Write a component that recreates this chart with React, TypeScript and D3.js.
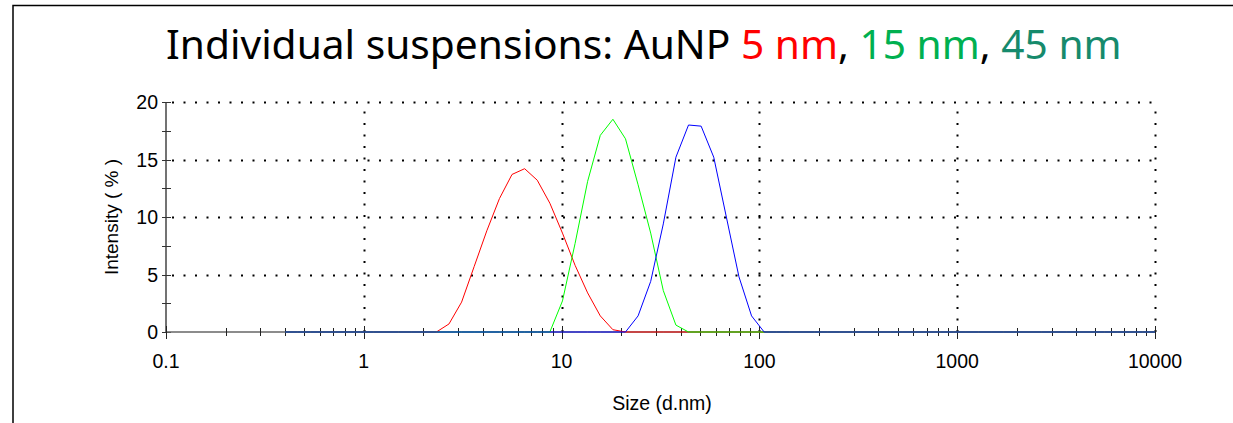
import React, { useEffect, useRef } from "react";
import * as d3 from "d3";

// size bins (d.nm) of the instrument
const sizes = [
  0.4, 0.4632, 0.5365, 0.6213, 0.7195, 0.8332, 0.9649, 1.117, 1.294, 1.499,
  1.736, 2.01, 2.328, 2.696, 3.122, 3.615, 4.187, 4.849, 5.615, 6.503,
  7.531, 8.721, 10.1, 11.7, 13.54, 15.69, 18.17, 21.04, 24.36, 28.21,
  32.67, 37.84, 43.82, 50.75, 58.77, 68.06, 78.82, 91.28, 105.7, 122.4,
  141.8, 164.2, 190.1, 220.2, 255.0, 295.3, 342.0, 396.1, 458.7, 531.2,
  615.1, 712.4, 825.0, 955.4, 1106, 1281, 1484, 1718, 1990, 2305,
  2669, 3091, 3580, 4145, 4801, 5560, 6439, 7456, 8635, 10000,
];

const au5nm = [
  0, 0, 0, 0, 0, 0, 0, 0, 0, 0,
  0, 0, 0, 0.7, 2.6, 5.7, 8.8, 11.6, 13.7, 14.2,
  13.2, 11.2, 8.6, 5.8, 3.4, 1.4, 0.2, 0, 0, 0,
  0, 0, 0, 0, 0, 0, 0, 0, 0, 0,
  0, 0, 0, 0, 0, 0, 0, 0, 0, 0,
  0, 0, 0, 0, 0, 0, 0, 0, 0, 0,
  0, 0, 0, 0, 0, 0, 0, 0, 0, 0,
];

const au15nm = [
  0, 0, 0, 0, 0, 0, 0, 0, 0, 0,
  0, 0, 0, 0, 0, 0, 0, 0, 0, 0,
  0, 0, 2.7, 7.7, 13.1, 17.1, 18.5, 16.8, 12.8, 8.6,
  3.6, 0.6, 0, 0, 0, 0, 0, 0, 0, 0,
  0, 0, 0, 0, 0, 0, 0, 0, 0, 0,
  0, 0, 0, 0, 0, 0, 0, 0, 0, 0,
  0, 0, 0, 0, 0, 0, 0, 0, 0, 0,
];

const au45nm = [
  0, 0, 0, 0, 0, 0, 0, 0, 0, 0,
  0, 0, 0, 0, 0, 0, 0, 0, 0, 0,
  0, 0, 0, 0, 0, 0, 0, 0, 1.4, 4.4,
  9.4, 15.2, 18.0, 17.9, 15.2, 10.0, 4.8, 1.4, 0, 0,
  0, 0, 0, 0, 0, 0, 0, 0, 0, 0,
  0, 0, 0, 0, 0, 0, 0, 0, 0, 0,
  0, 0, 0, 0, 0, 0, 0, 0, 0, 0,
];

const xTicks = [0.1, 1, 10, 100, 1000, 10000];
const xTickLabels = ["0.1", "1", "10", "100", "1000", "10000"];
const yTicks = [0, 5, 10, 15, 20];
const yMinorTicks = [2.5, 7.5, 12.5, 17.5];

const titleParts = [
  {text: "Individual suspensions: AuNP ", color: "#000000"},
  {text: "5 nm", color: "#ff0000"},
  {text: ", ", color: "#000000"},
  {text: "15 nm", color: "#00b050"},
  {text: ", ", color: "#000000"},
  {text: "45 nm", color: "#168a6c"},
];

const series = [
  {name: "5 nm", values: au5nm, color: "#ff0000"},
  {name: "15 nm", values: au15nm, color: "#00ff00"},
  {name: "45 nm", values: au45nm, color: "#0000ff"},
];

export default function App() {
  const ref = useRef<SVGSVGElement>(null);
  const width = 1233;
  const height = 423;
  const left = 166;
  const right = 1155;
  const top = 102;
  const bottom = 332;
  const axisFont = "'Liberation Sans', Arial, sans-serif";

  useEffect(() => {
    const svg = d3.select(ref.current);
    svg.selectAll("*").remove();

    const x = d3.scaleLog().domain([0.1, 10000]).range([left, right]);
    const y = d3.scaleLinear().domain([0, 20]).range([bottom, top]);

    // frame (top + left only)
    svg.append("path")
      .attr("d", `M13,${height} V5.5 H${width}`)
      .attr("fill", "none")
      .attr("stroke", "#000")
      .attr("stroke-width", 1.5);

    // title, scaled to the reference width
    const title = svg.append("text")
      .attr("x", left)
      .attr("y", 59)
      .attr("font-family", "'Noto Sans', 'DejaVu Sans', sans-serif")
      .attr("font-size", 40);
    title.selectAll("tspan")
      .data(titleParts)
      .join("tspan")
      .attr("fill", d => d.color)
      .style("white-space", "pre")
      .text(d => d.text);
    const tw = (title.node() as SVGTextElement).getComputedTextLength();
    if (tw > 0) title.attr("font-size", 40 * 956 / tw);

    // dotted grid
    const grid = svg.append("g")
      .attr("stroke", "#000")
      .attr("stroke-width", 2)
      .attr("stroke-dasharray", "2 9.5");
    grid.selectAll("line.h")
      .data(yTicks.filter(d => d > 0))
      .join("line")
      .attr("class", "h")
      .attr("x1", left + 6).attr("x2", right)
      .attr("y1", d => Math.round(y(d)) + 0.5).attr("y2", d => Math.round(y(d)) + 0.5);
    grid.selectAll("line.v")
      .data(xTicks.filter(d => d > 0.1))
      .join("line")
      .attr("class", "v")
      .attr("y1", bottom).attr("y2", top)
      .attr("x1", d => Math.round(x(d)) + 0.5).attr("x2", d => Math.round(x(d)) + 0.5);

    // y axis
    const yAxis = svg.append("g").attr("transform", `translate(${left},0)`);
    yAxis.append("line")
      .attr("y1", top).attr("y2", bottom)
      .attr("stroke", "#444").attr("stroke-width", 1.5);
    yAxis.selectAll("line.tick")
      .data([...yTicks, ...yMinorTicks])
      .join("line")
      .attr("class", "tick")
      .attr("x1", -4).attr("x2", 5)
      .attr("y1", d => Math.round(y(d)) + 0.5).attr("y2", d => Math.round(y(d)) + 0.5)
      .attr("stroke", "#333");
    yAxis.selectAll("text")
      .data(yTicks)
      .join("text")
      .attr("x", -8)
      .attr("y", d => y(d))
      .attr("dy", "0.36em")
      .attr("text-anchor", "end")
      .attr("font-family", axisFont)
      .attr("font-size", 19.5)
      .text(d => d);

    // x axis
    const xAxis = svg.append("g").attr("transform", `translate(0,${bottom})`);
    xAxis.append("line")
      .attr("x1", left).attr("x2", right)
      .attr("stroke", "#666").attr("stroke-width", 1.5);
    xAxis.selectAll("line.minor")
      .data(x.ticks())
      .join("line")
      .attr("class", "minor")
      .attr("y1", -4).attr("y2", 4)
      .attr("x1", d => Math.round(x(d)) + 0.5).attr("x2", d => Math.round(x(d)) + 0.5)
      .attr("stroke", "#222");
    xAxis.selectAll("line.major")
      .data(xTicks)
      .join("line")
      .attr("class", "major")
      .attr("y1", -6).attr("y2", 7)
      .attr("x1", d => Math.round(x(d)) + 0.5).attr("x2", d => Math.round(x(d)) + 0.5)
      .attr("stroke", "#222");
    xAxis.selectAll("text")
      .data(xTicks)
      .join("text")
      .attr("x", d => x(d))
      .attr("y", 36)
      .attr("text-anchor", "middle")
      .attr("font-family", axisFont)
      .attr("font-size", 19.5)
      .text((d, i) => xTickLabels[i]);

    // axis titles
    svg.append("text")
      .attr("x", 662).attr("y", 410)
      .attr("text-anchor", "middle")
      .attr("font-family", axisFont)
      .attr("font-size", 19.5)
      .text("Size (d.nm)");
    svg.append("text")
      .attr("transform", "translate(118,217) rotate(-90)")
      .attr("text-anchor", "middle")
      .attr("font-family", axisFont)
      .attr("font-size", 19)
      .style("white-space", "pre")
      .text("Intensity ( % )");

    // distributions
    const line = d3.line<number>()
      .x((d, i) => x(sizes[i]))
      .y(d => y(d));
    svg.append("g")
      .selectAll("path")
      .data(series)
      .join("path")
      .attr("d", d => line(d.values))
      .attr("fill", "none")
      .attr("stroke", d => d.color)
      .attr("stroke-width", 1);
  }, []);

  return (
    <div style={{position: "absolute", left: 0, top: 0, background: "#fff"}}>
      <svg ref={ref} width={width} height={height}/>
    </div>
  );
}
